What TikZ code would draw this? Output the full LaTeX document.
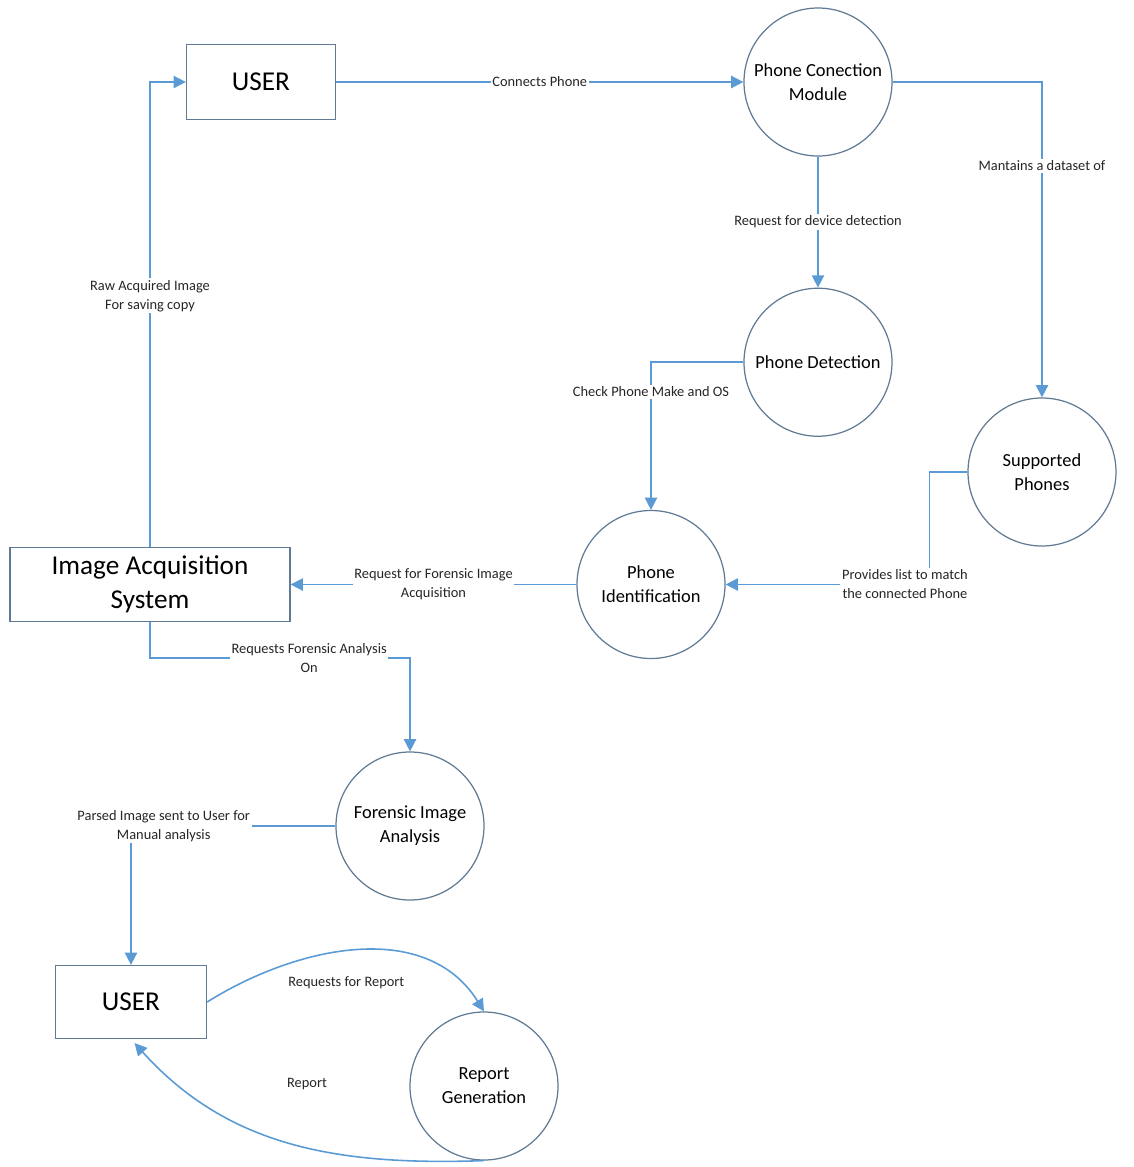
\documentclass[tikz,border=0pt]{standalone}
\usepackage{fontspec}
\setmainfont{Carlito}
\usepackage{xcolor}
\usetikzlibrary{arrows.meta,positioning}

\definecolor{flowblue}{RGB}{91,155,213}
\definecolor{edgegray}{RGB}{96,122,148}

\tikzset{
  proc/.style={circle, draw=edgegray, line width=0.7pt, minimum size=2.96cm, inner sep=0pt, align=center, font=\fontsize{10.5}{13.6}\selectfont},
  entity/.style={rectangle, draw=edgegray, line width=0.7pt, align=center, font=\fontsize{15.5}{19.3}\selectfont},
  flow/.style={draw=flowblue, line width=0.9pt, -{Triangle[length=7pt,width=7pt]}},
  lbl/.style={fill=white, inner sep=1pt, align=center, text=black!85, font=\fontsize{8.2}{10.8}\selectfont},
}

\begin{document}
\begin{tikzpicture}
\useasboundingbox (0,0) rectangle (22.68,-23.34);
% nodes
\node[entity, minimum width=2.98cm, minimum height=1.5cm] (user) at (5.22,-1.64) {USER};
\node[proc] (conn) at (16.36,-1.64) {Phone Conection\\Module};
\node[proc, below=2.62cm of conn] (detect) {Phone Detection};
\node[proc] (supp) at (20.84,-9.44) {Supported\\Phones};
\node[proc] (ident) at (13.02,-11.69) {Phone\\Identification};
\node[entity, minimum width=5.6cm, minimum height=1.48cm] (acq) at (3.0,-11.69) {Image Acquisition\\System};
\node[proc] (analysis) at (8.2,-16.52) {Forensic Image\\Analysis};
\node[entity, minimum width=3.02cm, minimum height=1.46cm] (user2) at (2.62,-20.04) {USER};
\node[proc] (report) at (9.68,-21.72) {Report\\Generation};
% edges
\draw[flow] (user) -- node[lbl] {Connects Phone} (conn);
\draw[flow] (conn) -- node[lbl] {Request for device detection} (detect);
\draw[flow] (conn.east) -| node[lbl, pos=0.633] {Mantains a dataset of} (supp.north);
\draw[flow] (detect.west) -| node[lbl, pos=0.6] {Check Phone Make and OS} (ident.north);
\draw[flow] (supp.west) -- ++(-0.76,0) |- node[lbl, pos=0.56] {Provides list to match\\the connected Phone} (ident.east);
\draw[flow] (ident) -- node[lbl] {Request for Forensic Image\\Acquisition} (acq);
\draw[flow] (acq.north) |- node[lbl, pos=0.27] {Raw Acquired Image\\For saving copy} (user.west);
\draw[flow] (acq.south) -- ++(0,-0.72) -| node[lbl, pos=0.306] {Requests Forensic Analysis\\On} (analysis.north);
\draw[flow] (analysis.west) -| node[lbl, pos=0.42] {Parsed Image sent to User for\\Manual analysis} (user2.north);
\draw[flow] (user2.east) to[out=32, in=122] node[lbl, fill=none, pos=0.46, below=0.45cm] {Requests for Report} (report.north);
\draw[flow, shorten >=3pt] (report.south) to[out=182, in=-48] node[lbl, fill=none, pos=0.45, above=1.1cm] {Report} (user2.south);
%\draw[flow] (report) -- (user2);
\end{tikzpicture}
\end{document}
